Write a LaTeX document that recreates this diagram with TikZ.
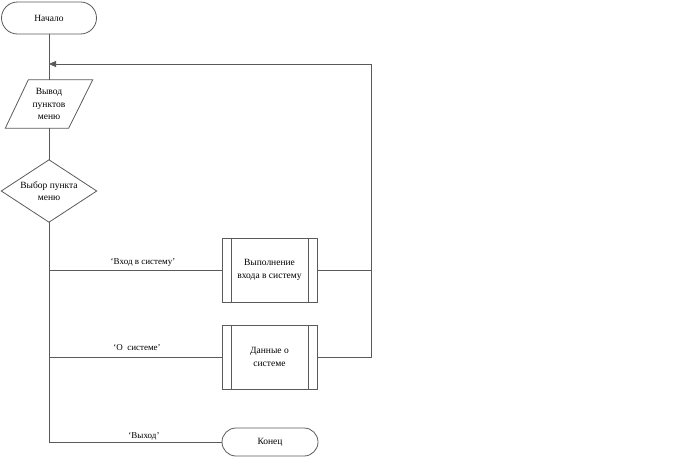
\documentclass[tikz,border=0pt]{standalone}
\usepackage{fontspec}
\setmainfont{Liberation Serif}
\usetikzlibrary{arrows.meta,calc}
\definecolor{ln}{HTML}{5A5A5A}
\tikzset{
  every node/.style={font=\fontsize{9.5}{12.5}\selectfont, align=center, text=black},
  term/.style={draw=ln, line width=0.8pt, rectangle, rounded corners=#1, inner sep=0pt},
  box/.style={draw=ln, line width=0.8pt, rectangle, inner sep=0pt},
  ghost/.style={inner sep=0pt},
  conn/.style={draw=ln, line width=0.8pt},
  lbl/.style={inner sep=0pt, font=\fontsize{9}{11}\selectfont}
}
\begin{document}
\begin{tikzpicture}[x=1pt,y=-1pt]
\useasboundingbox (0,0) rectangle (688,461);
% start
\node[term=16pt, minimum width=95pt, minimum height=32pt] (start) at (49,18) {Начало};
% output parallelogram
\node[ghost, minimum width=87pt, minimum height=48pt] (out) at (49,104) {Вывод\\пунктов\\меню};
\draw[conn] ($(out.north west)+(23,0)$) -- (out.north east) -- ($(out.south east)+(-24,0)$) -- (out.south west) -- cycle;
% decision diamond
\node[ghost, minimum width=95pt, minimum height=62pt] (dia) at (49,191) {Выбор пункта\\меню};
\draw[conn] (dia.north) -- (dia.east) -- (dia.south) -- (dia.west) -- cycle;
% process boxes
\node[box, minimum width=95pt, minimum height=64pt] (p1) at (269.5,270) {Выполнение\\входа в систему};
\draw[conn] ($(p1.north west)+(10,0)$) -- ($(p1.south west)+(10,0)$);
\draw[conn] ($(p1.north east)+(-9,0)$) -- ($(p1.south east)+(-9,0)$);
\node[box, minimum width=95pt, minimum height=64pt] (p2) at (269.5,357) {Данные о\\системе};
\draw[conn] ($(p2.north west)+(10,0)$) -- ($(p2.south west)+(10,0)$);
\draw[conn] ($(p2.north east)+(-9,0)$) -- ($(p2.south east)+(-9,0)$);
% end
\node[term=14pt, minimum width=96pt, minimum height=28pt] (end) at (270,442) {Конец};
% connectors
\coordinate (r) at (371,64);
\coordinate (m) at (49,64);
\draw[conn] (start.south) -- (out.north);
\draw[conn] (out.south) -- (dia.north);
\draw[conn] (dia.south) |- (p1.west);
\draw[conn] (dia.south) |- (p2.west);
\draw[conn] (dia.south) |- (end.west);
\draw[conn] (p1.east) -- (p1.east -| r);
\draw[conn] (p2.east) -| (r);
\draw[conn, -{Triangle[length=7pt,width=6pt]}] (r) -- (m);
% labels
\node[lbl] (l1) at (143,262) {‘Вход в систему’};
\node[lbl] (l2) at (137,348) {‘О\ \ системе’};
\node[lbl] (l3) at (144,436) {‘Выход’};
\end{tikzpicture}
\end{document}
